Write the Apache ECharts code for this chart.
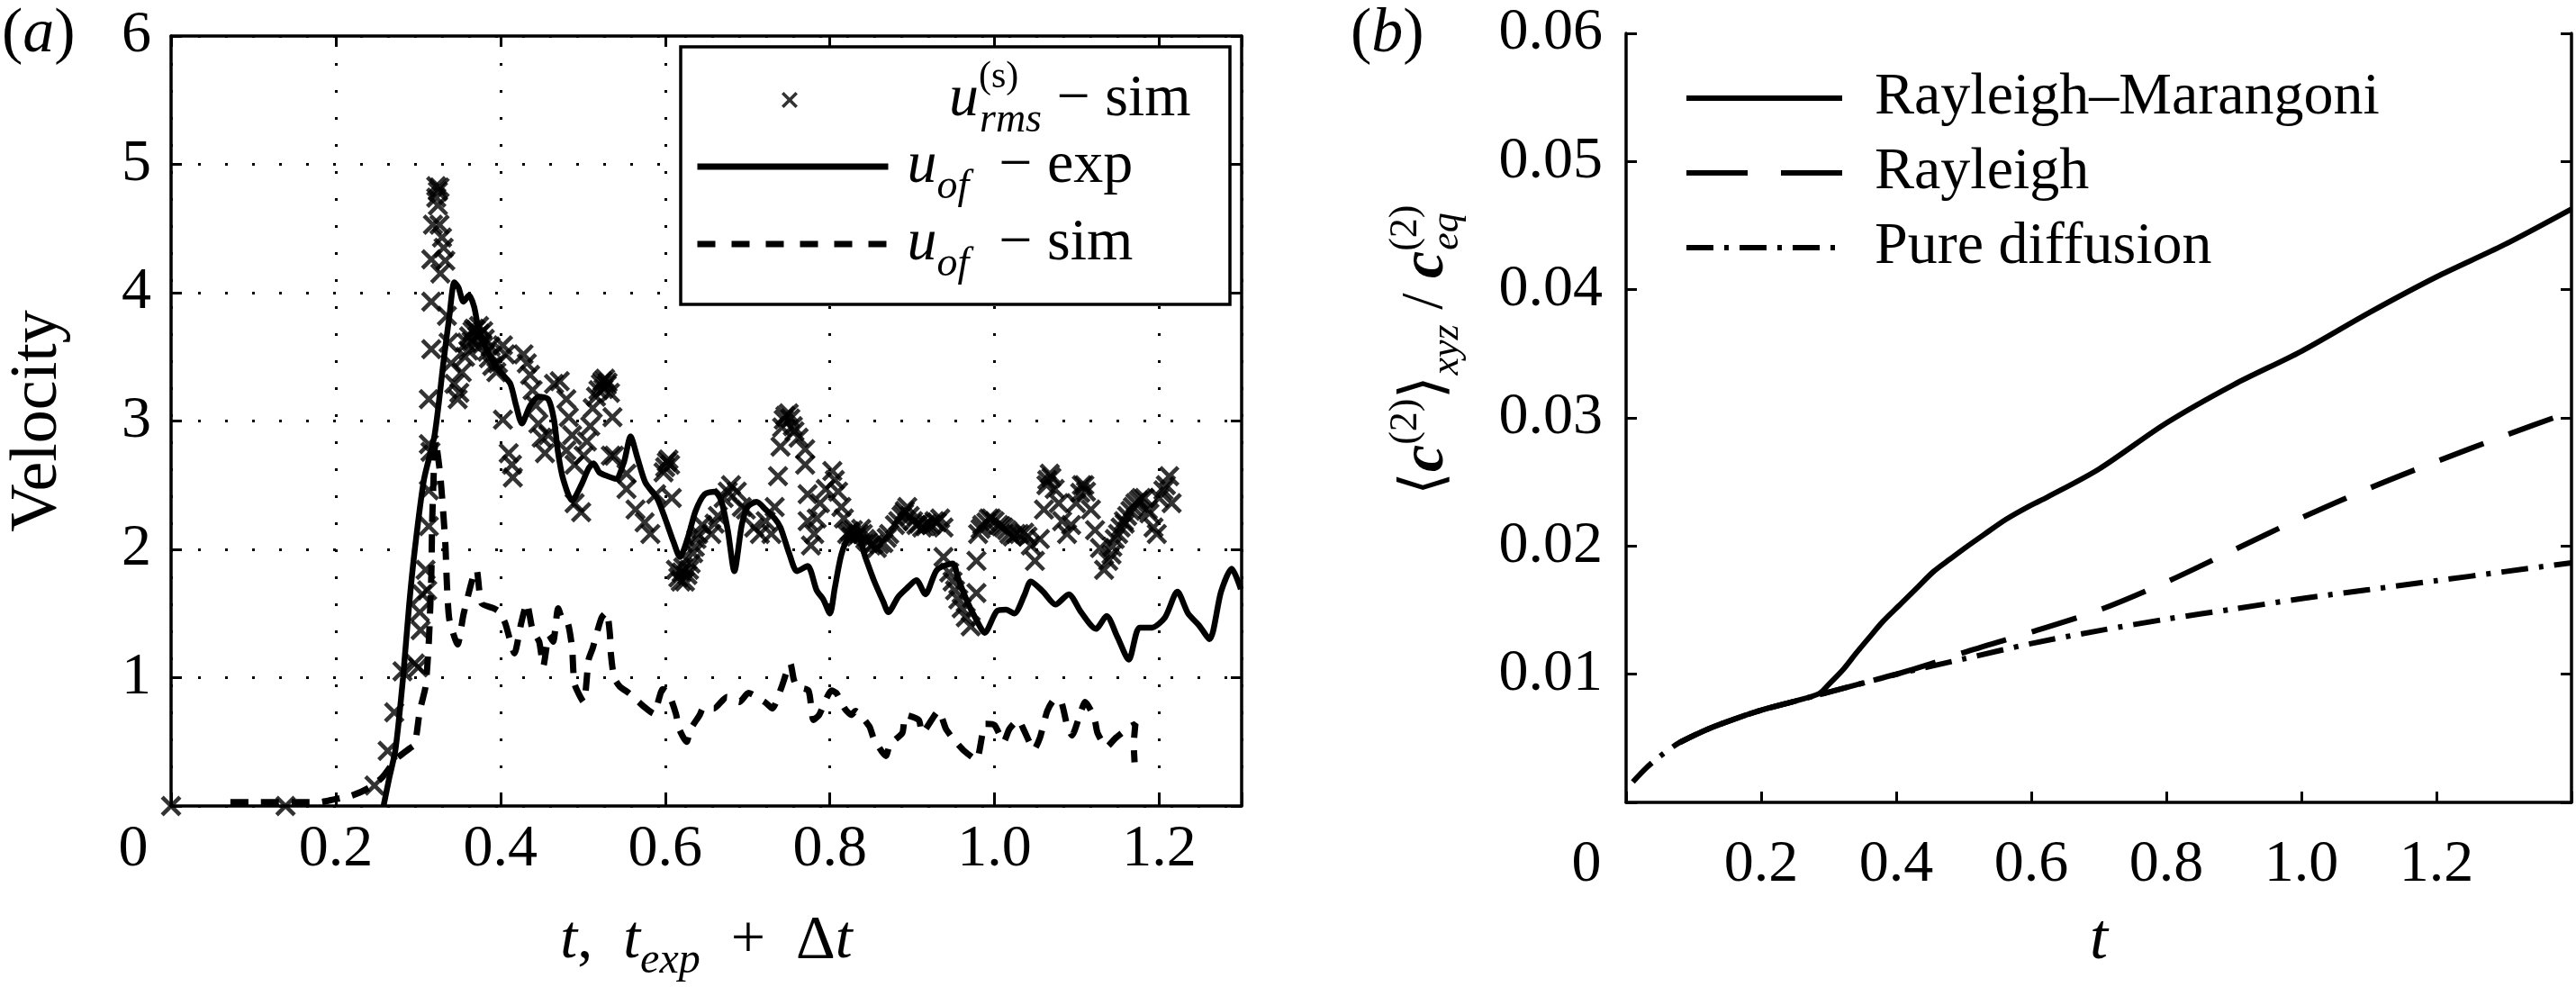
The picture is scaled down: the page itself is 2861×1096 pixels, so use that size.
<!DOCTYPE html>
<html><head><meta charset="utf-8">
<script src="https://cdn.jsdelivr.net/npm/echarts@6/dist/echarts.min.js"></script>
<style>html,body{margin:0;padding:0;background:#fff}#c{width:2861px;height:1096px}</style>
</head><body><div id="c"></div>
<script>
const FONT = 'Liberation Serif';

// ---------- Panel (a) data ----------
const xTickLabelsA = ['0', '0.2', '0.4', '0.6', '0.8', '1.0', '1.2'];
const yTickLabelsA = ['1', '2', '3', '4', '5', '6'];

const urmsSim = [
  [0.0,0.0],[0.139,0.0],[0.247,0.16],[0.263,0.43],[0.271,0.73],[0.281,1.05],[0.296,1.11],[0.30,1.08],
  [0.303,1.37],[0.302,1.51],[0.305,1.65],[0.311,1.68],[0.309,1.84],[0.313,2.18],[0.313,2.46],[0.315,2.76],
  [0.313,2.82],[0.313,3.17],[0.316,3.56],[0.316,3.93],[0.335,3.82],[0.337,3.61],[0.316,4.26],[0.333,4.25],
  [0.331,4.35],[0.329,4.43],[0.318,4.53],[0.326,4.53],[0.324,4.68],[0.322,4.74],[0.322,4.83],[0.326,4.82],
  [0.324,4.79],[0.327,4.15],[0.34,3.45],[0.344,3.29],[0.348,3.17],[0.35,3.22],[0.353,3.38],[0.357,3.50],
  [0.359,3.61],[0.362,3.66],[0.366,3.70],[0.37,3.71],[0.375,3.68],[0.381,3.64],[0.384,3.54],[0.39,3.43],
  [0.395,3.38],[0.403,3.59],[0.406,3.52],[0.403,3.01],[0.41,2.75],[0.415,2.56],[0.414,2.66],[0.428,3.52],
  [0.432,3.45],[0.436,3.36],[0.439,3.24],[0.443,3.12],[0.446,2.98],[0.45,2.87],[0.454,2.75],[0.458,2.89],
  [0.465,3.29],[0.472,3.31],[0.48,3.17],[0.483,3.03],[0.487,2.89],[0.48,2.77],[0.49,2.66],[0.49,2.36],
  [0.498,2.29],[0.501,2.73],[0.505,2.84],[0.509,2.96],[0.512,3.10],[0.516,3.19],[0.522,3.29],[0.527,3.33],
  [0.533,3.22],[0.536,3.03],[0.538,2.73],[0.534,2.73],[0.553,2.59],[0.553,2.47],[0.564,2.31],[0.575,2.21],
  [0.582,2.12],[0.589,2.43],[0.60,2.64],[0.604,2.70],[0.608,2.40],[0.613,1.84],[0.619,1.75],[0.624,1.75],
  [0.631,1.89],[0.638,2.08],[0.645,2.19],[0.656,2.12],[0.664,2.26],[0.671,2.40],[0.68,2.50],[0.687,2.45],
  [0.693,2.33],[0.698,2.31],[0.708,2.17],[0.715,2.12],[0.722,2.22],[0.729,2.12],[0.733,2.33],[0.737,2.57],
  [0.74,2.80],[0.744,3.01],[0.75,3.06],[0.755,2.96],[0.762,2.87],[0.77,2.78],[0.77,2.66],[0.773,2.43],
  [0.773,2.22],[0.777,2.03],[0.781,2.12],[0.784,2.24],[0.788,2.36],[0.795,2.47],[0.803,2.61],[0.806,2.54],
  [0.81,2.45],[0.814,2.33],[0.817,2.24],[0.821,2.12],[0.828,2.15],[0.835,2.12],[0.843,2.08],[0.85,2.03],
  [0.857,2.01],[0.865,2.05],[0.872,2.12],[0.879,2.19],[0.887,2.26],[0.894,2.33],[0.901,2.22],[0.912,2.17],
  [0.923,2.19],[0.934,2.24],[0.938,2.17],[0.938,1.94],[0.945,1.82],[0.949,1.75],[0.952,1.68],[0.956,1.61],
  [0.96,1.54],[0.965,1.47],[0.971,1.40],[0.978,1.91],[0.978,1.66],[0.98,2.12],[0.985,2.19],[0.993,2.24],
  [1.0,2.22],[1.011,2.17],[1.018,2.12],[1.026,2.12],[1.036,2.13],[1.044,2.03],[1.049,1.91],[1.055,2.08],
  [1.06,2.31],[1.064,2.54],[1.067,2.59],[1.073,2.47],[1.078,2.36],[1.082,2.22],[1.088,2.12],[1.093,2.19],
  [1.099,2.36],[1.106,2.50],[1.111,2.45],[1.117,2.31],[1.122,2.15],[1.128,2.01],[1.133,1.84],[1.138,1.91],
  [1.146,2.08],[1.153,2.17],[1.161,2.26],[1.168,2.33],[1.175,2.38],[1.182,2.40],[1.186,2.31],[1.193,2.17],
  [1.197,2.12],[1.20,2.40],[1.208,2.50],[1.212,2.57],[1.215,2.36],
  [0.365,3.62],[0.372,3.66],[0.378,3.60],[0.386,3.49],[0.525,3.25],[0.53,3.30],[0.62,1.82],[0.627,1.80],
  [0.634,1.97],[0.64,2.12],[0.66,2.20],[0.676,2.45],[0.826,2.10],[0.84,2.12],[0.86,2.04],[0.869,2.09],
  [0.89,2.28],[0.905,2.19],[0.918,2.20],[0.93,2.21],[0.99,2.21],[1.005,2.19],[1.03,2.12],[1.04,2.10],
  [1.157,2.22],[1.165,2.30],[1.178,2.40],[1.143,2.02],
  [0.361,3.55],[0.368,3.72],[0.374,3.74],[0.379,3.70],[0.388,3.58],[0.397,3.45],[0.519,3.24],[0.524,3.31],
  [0.529,3.28],[0.598,2.60],[0.602,2.68],[0.606,2.66],[0.616,1.78],[0.622,1.86],[0.629,1.84],[0.636,2.02],
  [0.742,2.95],[0.746,3.04],[0.752,3.02],[0.757,2.92],[0.824,2.14],[0.832,2.10],[0.838,2.16],[0.846,2.06],
  [0.853,2.04],[0.883,2.22],[0.891,2.30],[0.897,2.26],[0.908,2.20],[0.916,2.18],[0.927,2.22],[0.983,2.16],
  [0.996,2.24],[1.008,2.18],[1.015,2.15],[1.022,2.10],[1.063,2.50],[1.069,2.56],[1.104,2.44],[1.109,2.50],
  [1.142,1.96],[1.15,2.12],[1.158,2.20],[1.171,2.36],[1.188,2.28],[1.205,2.46]
];

const uofExp = [
  [0.258,0.0],[0.265,0.22],[0.2725,0.44],[0.2817,1.0],[0.289,1.56],[0.296,2.0],[0.307,2.54],[0.32,2.89],
  [0.331,3.47],[0.338,3.82],[0.344,4.08],[0.349,4.04],[0.355,3.93],[0.362,3.98],[0.368,3.89],[0.373,3.73],
  [0.381,3.59],[0.392,3.45],[0.403,3.36],[0.412,3.29],[0.419,3.12],[0.426,2.98],[0.436,3.12],[0.447,3.19],
  [0.458,3.17],[0.465,3.01],[0.47,2.75],[0.476,2.55],[0.487,2.38],[0.498,2.50],[0.507,2.63],[0.513,2.67],
  [0.52,2.60],[0.53,2.57],[0.54,2.55],[0.55,2.68],[0.558,2.88],[0.566,2.72],[0.576,2.52],[0.59,2.40],
  [0.60,2.24],[0.61,2.06],[0.618,1.94],[0.627,2.08],[0.637,2.30],[0.648,2.43],[0.66,2.45],[0.668,2.38],
  [0.676,2.15],[0.684,1.83],[0.693,2.19],[0.70,2.33],[0.711,2.37],[0.722,2.31],[0.733,2.24],[0.74,2.17],
  [0.751,1.96],[0.76,1.83],[0.773,1.87],[0.784,1.68],[0.792,1.61],[0.80,1.50],[0.806,1.70],[0.814,1.96],
  [0.823,2.09],[0.834,2.10],[0.843,1.94],[0.854,1.75],[0.865,1.59],[0.871,1.51],[0.883,1.63],[0.894,1.70],
  [0.905,1.76],[0.916,1.65],[0.93,1.84],[0.949,1.89],[0.956,1.77],[0.967,1.59],[0.978,1.45],[0.988,1.35],
  [1.003,1.52],[1.014,1.53],[1.024,1.50],[1.036,1.64],[1.044,1.75],[1.059,1.67],[1.074,1.57],[1.09,1.65],
  [1.105,1.51],[1.123,1.38],[1.136,1.48],[1.149,1.32],[1.163,1.14],[1.176,1.39],[1.191,1.39],[1.207,1.47],
  [1.222,1.67],[1.235,1.50],[1.248,1.41],[1.261,1.30],[1.275,1.67],[1.288,1.85],[1.299,1.69]
];

const uofSim = [
  [0.072,0.03],[0.10,0.03],[0.13,0.03],[0.16,0.03],[0.18,0.03],[0.197,0.05],[0.219,0.08],[0.24,0.14],
  [0.256,0.22],[0.274,0.37],[0.29,0.45],[0.296,0.48],[0.302,0.74],[0.309,0.93],[0.313,1.28],[0.316,1.79],
  [0.317,2.20],[0.319,2.60],[0.321,2.85],[0.327,2.57],[0.333,2.05],[0.335,1.72],[0.338,1.45],[0.348,1.26],
  [0.355,1.49],[0.366,1.77],[0.371,1.84],[0.377,1.58],[0.392,1.54],[0.399,1.51],[0.406,1.42],[0.417,1.19],
  [0.425,1.42],[0.432,1.58],[0.439,1.37],[0.447,1.28],[0.452,1.09],[0.459,1.33],[0.464,1.28],[0.47,1.54],
  [0.476,1.44],[0.482,1.42],[0.487,1.23],[0.49,0.95],[0.501,0.81],[0.507,1.14],[0.512,1.23],[0.518,1.37],
  [0.523,1.47],[0.529,1.51],[0.533,1.33],[0.534,1.19],[0.538,1.0],[0.545,0.93],[0.556,0.88],[0.575,0.77],
  [0.586,0.72],[0.597,0.91],[0.604,0.88],[0.613,0.72],[0.617,0.60],[0.626,0.50],[0.631,0.60],[0.642,0.71],
  [0.646,0.76],[0.659,0.76],[0.675,0.85],[0.69,0.81],[0.701,0.88],[0.721,0.81],[0.73,0.76],[0.741,0.92],
  [0.752,1.11],[0.756,0.99],[0.76,0.93],[0.774,0.90],[0.78,0.67],[0.787,0.71],[0.802,0.90],[0.808,0.88],
  [0.818,0.76],[0.826,0.71],[0.831,0.74],[0.848,0.62],[0.853,0.53],[0.868,0.39],[0.873,0.48],[0.888,0.57],
  [0.892,0.71],[0.908,0.67],[0.912,0.57],[0.932,0.74],[0.941,0.60],[0.949,0.53],[0.963,0.43],[0.978,0.36],
  [0.989,0.64],[1.0,0.63],[1.011,0.50],[1.018,0.60],[1.029,0.67],[1.035,0.60],[1.048,0.44],[1.055,0.53],
  [1.064,0.74],[1.073,0.83],[1.081,0.81],[1.088,0.63],[1.094,0.55],[1.105,0.74],[1.11,0.81],[1.121,0.69],
  [1.125,0.57],[1.136,0.46],[1.147,0.53],[1.165,0.62],[1.171,0.64],[1.169,0.48],[1.170,0.34]
];

// ---------- Panel (b) data ----------
const xTickLabelsB = ['0', '0.2', '0.4', '0.6', '0.8', '1.0', '1.2'];
const yTickLabelsB = ['0.01', '0.02', '0.03', '0.04', '0.05', '0.06'];

const rayleighMarangoni = [
  [0.08,0.0047],[0.12,0.0057],[0.16,0.0065],[0.2,0.0072],
  [0.25,0.0079],[0.286,0.0085],[0.30,0.0092],[0.322,0.0104],[0.34,0.0116],[0.359,0.0128],[0.38,0.0141],
  [0.407,0.0155],[0.43,0.0167],[0.455,0.0180],[0.48,0.0190],[0.503,0.0199],[0.53,0.0209],[0.563,0.0221],
  [0.6,0.0232],[0.623,0.0238],[0.7,0.0260],[0.8,0.0296],[0.9,0.0326],[1.0,0.0352],[1.1,0.0382],
  [1.2,0.0410],[1.3,0.0435],[1.4,0.0463]
];
const rayleigh = [
  [0.08,0.0047],[0.12,0.0057],[0.16,0.0065],[0.2,0.0072],
  [0.25,0.0079],[0.3,0.0086],[0.35,0.0093],[0.4,0.0100],[0.45,0.0108],[0.5,0.0117],[0.6,0.0133],
  [0.7,0.0150],[0.8,0.0172],[0.9,0.0197],[1.0,0.0222],[1.1,0.0245],[1.2,0.0266],[1.3,0.0286],[1.4,0.0305]
];
const pureDiffusion = [
  [0.01,0.0016],[0.03,0.0027],[0.05,0.0036],[0.08,0.0047],[0.12,0.0057],[0.16,0.0065],[0.2,0.0072],
  [0.25,0.0079],[0.3,0.0086],[0.35,0.0093],[0.4,0.0100],[0.5,0.0112],[0.6,0.0124],[0.7,0.0134],
  [0.8,0.0143],[0.9,0.0151],[1.0,0.0159],[1.1,0.0166],[1.2,0.0173],[1.3,0.0180],[1.4,0.0187]
];

// ---------- helpers ----------
const T = (o) => Object.assign({ fontFamily: FONT, color: '#000', fontWeight: 'normal', fontStyle: 'normal' }, o);
const FS = 66;
function tickFormatter(labels, step, zeroShift) {
  return function (v) {
    const i = Math.round(v / step);
    if (Math.abs(v - i * step) > step * 1e-3) return '';
    const s = labels[i - (zeroShift ? 1 : 0)];
    if (s === undefined) return '';
    if (s === '0') return '{z|0}';
    return s;
  };
}
const labelStyle = (margin, zpad, fmt) => ({
  margin: margin, fontFamily: FONT, fontSize: FS, color: '#000', formatter: fmt,
  rich: { z: T({ fontSize: FS, padding: [0, zpad, 0, 0] }) }
});
const crossPath = 'path://M0,3.2 L3.2,0 L11.5,8.3 L19.8,0 L23,3.2 L14.7,11.5 L23,19.8 L19.8,23 L11.5,14.7 L3.2,23 L0,19.8 L8.3,11.5 Z';

const axisLineStyle = { color: '#000', width: 3.5 };
const tickStyle = { show: true, inside: true, length: 12, lineStyle: { color: '#000', width: 3 } };
const gridDots = { show: true, lineStyle: { color: '#000', width: 3, type: [3, 27] } };

const legendRichA = {
  u: T({ fontSize: FS, fontStyle: 'italic', lineHeight: 92, verticalAlign: 'middle' }),
  sup0: T({ fontSize: 42, width: 1, align: 'left', lineHeight: 42, verticalAlign: 'top' }),
  sub: T({ fontSize: 46, fontStyle: 'italic', lineHeight: 46, verticalAlign: 'bottom' }),
  n: T({ fontSize: FS, lineHeight: 92, verticalAlign: 'middle' })
};
const legendTextA = {
  'u_rms - sim': '{u|u}{sup0|(s)}{sub|rms}{n| − sim}',
  'u_of - exp': '{u|u}{sub|of}{n|  − exp}',
  'u_of - sim': '{u|u}{sub|of}{n|  − sim}'
};
const hiddenDot = { color: 'rgba(0,0,0,0)', borderColor: 'rgba(0,0,0,0)', borderWidth: 0 };

function legendA(name, left, top, w, h, pad, lineType) {
  const lg = {
    show: true, data: [name], left: left, top: top, orient: 'vertical', padding: 0,
    itemWidth: w, itemHeight: h, symbolKeepAspect: true, selectedMode: false, z: 20,
    formatter: (n) => legendTextA[n],
    textStyle: T({ fontSize: FS, padding: [0, 0, 0, pad], rich: legendRichA })
  };
  if (lineType) {
    lg.itemStyle = hiddenDot;
    lg.lineStyle = { color: '#000', width: 7, type: lineType };
  }
  return lg;
}
function legendB(name, top, lineType) {
  return {
    show: true, data: [name], left: 1870, top: top, orient: 'vertical', padding: 0,
    itemWidth: 173, itemHeight: 20, selectedMode: false, z: 20, itemStyle: hiddenDot,
    lineStyle: { color: '#000', width: 6, type: lineType },
    textStyle: T({ fontSize: FS, padding: [0, 0, 0, 31] })
  };
}

const chart = echarts.init(document.getElementById('c'), null, { renderer: 'canvas' });

const titleRich = { p: T({ fontSize: 70 }), i: T({ fontSize: 70, fontStyle: 'italic' }) };
const option = {
  backgroundColor: '#fff',
  animation: false,
  textStyle: { fontFamily: FONT, color: '#000' },
  title: [
    { text: '{p|(}{i|a}{p|)}', left: 2, top: 4, padding: 0, textStyle: { fontWeight: 'normal', rich: titleRich } },
    { text: '{p|(}{i|b}{p|)}', left: 1500, top: 4, padding: 0, textStyle: { fontWeight: 'normal', rich: titleRich } }
  ],
  grid: [
    { left: 190, top: 40, width: 1189, height: 856, show: false },
    { left: 1806, top: 37, width: 1050, height: 856, show: false }
  ],
  legend: [
    legendA('u_rms - sim', 868, 65, 20, 18, 162, null),
    legendA('u_of - exp', 771, 152, 212, 20, 16, 'solid'),
    legendA('u_of - sim', 771, 238, 212, 20, 16, [20, 18]),
    legendB('Rayleigh–Marangoni', 76, 'solid'),
    legendB('Rayleigh', 159, [68, 37]),
    legendB('Pure diffusion', 242, [30, 12, 5, 12])
  ],
  graphic: [
    { type: 'rect', z: 15, shape: { x: 756, y: 52, width: 610, height: 286 },
      style: { fill: '#fff', stroke: '#000', lineWidth: 3.5 } },
    { type: 'text', z: 20, x: 1584, y: 550, rotation: Math.PI / 2,
      style: {
        text: '{br|⟨}{c|c}{sup|(2)}{br|⟩}{sub|xyz}{n| / }{c|c}{sup0|(2)}{sub|eq}',
        align: 'left', verticalAlign: 'middle', fill: '#000', fontFamily: FONT, fontSize: 66,
        rich: {
          br: T({ fontSize: 66, lineHeight: 90, verticalAlign: 'middle' }),
          c: T({ fontSize: 68, fontStyle: 'italic', fontWeight: 'bold', lineHeight: 90, verticalAlign: 'middle' }),
          n: T({ fontSize: 66, lineHeight: 90, verticalAlign: 'middle' }),
          sup: T({ fontSize: 44, lineHeight: 44, verticalAlign: 'top' }),
          sup0: T({ fontSize: 44, lineHeight: 44, verticalAlign: 'top', width: 1, align: 'left' }),
          sub: T({ fontSize: 44, fontStyle: 'italic', lineHeight: 44, verticalAlign: 'bottom' })
        }
      } }
  ],
  xAxis: [
    { gridIndex: 0, type: 'value', min: 0, max: 1.3, interval: 0.2, position: 'bottom',
      axisLine: { show: true, onZero: false, lineStyle: axisLineStyle },
      axisTick: tickStyle,
      axisLabel: labelStyle(16, 84, tickFormatter(xTickLabelsA, 0.2, false)),
      splitLine: gridDots,
      name: '{i|t}{n|,  }{i|t}{sub|exp}{n|  +  Δ}{i|t}', nameLocation: 'middle', nameGap: 104,
      nameTextStyle: { fontFamily: FONT, rich: {
        i: T({ fontSize: 68, fontStyle: 'italic', lineHeight: 92, verticalAlign: 'middle' }),
        n: T({ fontSize: 68, lineHeight: 92, verticalAlign: 'middle' }),
        sub: T({ fontSize: 48, fontStyle: 'italic', lineHeight: 48, verticalAlign: 'bottom' }) } } },
    { gridIndex: 0, type: 'value', min: 0, max: 1.3, interval: 0.2, position: 'top',
      axisLine: { show: true, onZero: false, lineStyle: axisLineStyle },
      axisTick: tickStyle, axisLabel: { show: false }, splitLine: { show: false } },
    { gridIndex: 1, type: 'value', min: 0, max: 1.4, interval: 0.2, position: 'bottom',
      axisLine: { show: true, onZero: false, lineStyle: axisLineStyle },
      axisTick: tickStyle,
      axisLabel: labelStyle(37, 88, tickFormatter(xTickLabelsB, 0.2, false)),
      splitLine: { show: false },
      name: 't', nameLocation: 'middle', nameGap: 84,
      nameTextStyle: T({ fontSize: 72, fontStyle: 'italic', lineHeight: 92 }) }
  ],
  yAxis: [
    { gridIndex: 0, type: 'value', min: 0, max: 6, interval: 1, position: 'left',
      axisLine: { show: true, onZero: false, lineStyle: axisLineStyle },
      axisTick: tickStyle,
      axisLabel: labelStyle(22, 0, tickFormatter(yTickLabelsA, 1, true)),
      splitLine: gridDots,
      name: 'Velocity', nameLocation: 'middle', nameGap: 110, nameRotate: 90,
      nameTextStyle: T({ fontSize: 74 }) },
    { gridIndex: 0, type: 'value', min: 0, max: 6, interval: 1, position: 'right',
      axisLine: { show: true, onZero: false, lineStyle: axisLineStyle },
      axisTick: tickStyle, axisLabel: { show: false }, splitLine: { show: false } },
    { gridIndex: 1, type: 'value', min: 0, max: 0.06, interval: 0.01, position: 'left',
      axisLine: { show: true, onZero: false, lineStyle: axisLineStyle },
      axisTick: tickStyle,
      axisLabel: labelStyle(26, 0, tickFormatter(yTickLabelsB, 0.01, true)),
      splitLine: { show: false } },
    { gridIndex: 1, type: 'value', min: 0, max: 0.06, interval: 0.01, position: 'right',
      axisLine: { show: true, onZero: false, lineStyle: axisLineStyle },
      axisTick: tickStyle, axisLabel: { show: false }, splitLine: { show: false } }
  ],
  series: [
    { name: 'u_rms - sim', type: 'scatter', xAxisIndex: 0, yAxisIndex: 0, data: urmsSim,
      symbol: crossPath, symbolSize: 23, clip: false, itemStyle: { color: '#000' }, z: 3 },
    { name: 'u_of - exp', type: 'line', xAxisIndex: 0, yAxisIndex: 0, data: uofExp,
      symbol: 'none', smooth: 0.25, lineStyle: { color: '#000', width: 6.5 }, itemStyle: { color: '#000' }, z: 4 },
    { name: 'u_of - sim', type: 'line', xAxisIndex: 0, yAxisIndex: 0, data: uofSim,
      symbol: 'none', smooth: 0.2, lineStyle: { color: '#000', width: 7, type: [20, 14] }, itemStyle: { color: '#000' }, z: 4 },
    { name: 'Rayleigh–Marangoni', type: 'line', xAxisIndex: 2, yAxisIndex: 2, data: rayleighMarangoni,
      symbol: 'none', smooth: 0.3, lineStyle: { color: '#000', width: 6 }, itemStyle: { color: '#000' } },
    { name: 'Rayleigh', type: 'line', xAxisIndex: 2, yAxisIndex: 2, data: rayleigh,
      symbol: 'none', smooth: 0.3, lineStyle: { color: '#000', width: 6, type: [52, 30] }, itemStyle: { color: '#000' } },
    { name: 'Pure diffusion', type: 'line', xAxisIndex: 2, yAxisIndex: 2, data: pureDiffusion,
      symbol: 'none', smooth: 0.3, lineStyle: { color: '#000', width: 6, type: [30, 12, 5, 12] }, itemStyle: { color: '#000' } }
  ]
};
chart.setOption(option);
</script></body></html>
